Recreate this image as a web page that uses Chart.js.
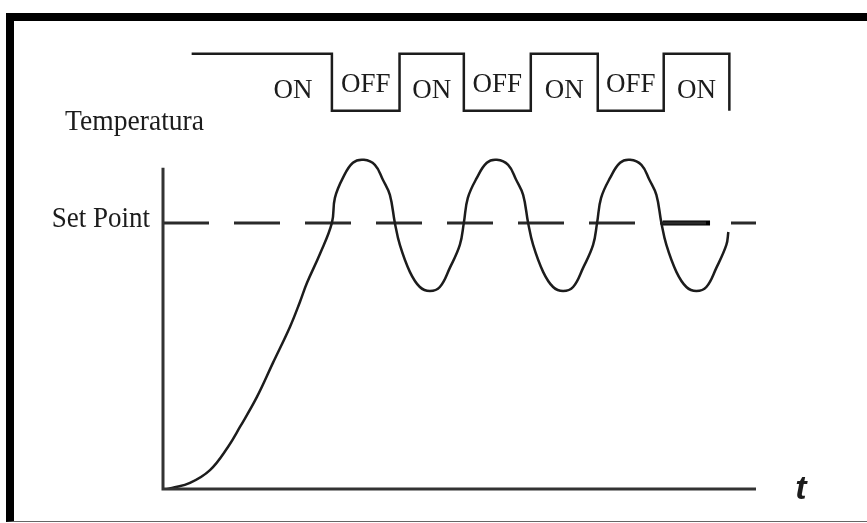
<!DOCTYPE html>
<html>
<head>
<meta charset="utf-8">
<script src="https://cdn.jsdelivr.net/npm/chart.js@4/dist/chart.umd.min.js"></script>
<style>
  body { margin: 0; background: #fff; overflow: hidden; }
  #frame { position: absolute; left: 6px; top: 13px; width: 870px; height: 509px; box-sizing: border-box;
           border-top: 8px solid #000; border-left: 8px solid #000; border-bottom: 1px solid #666; }
  #chartReport { position: absolute; left: 0; top: 0; width: 867px; height: 523px; }
</style>
</head>
<body>
<div id="frame"></div>
<div id="chartReport"><canvas id="myChart"></canvas></div>
<script>
  // time in arbitrary units (one oscillation = 20), temperature with set point = 100
  let time = [0.6, 1.35, 4.05, 7.05, 9.75, 11.55, 14.1, 16.5, 19.05, 20.55, 21.6, 23.55,
              25.35, 25.8, 27.0, 28.5, 30.15, 31.8, 33.0, 34.05, 34.8, 35.55, 37.05, 38.55,
              40.05, 41.55, 43.05, 44.55, 45.15, 45.75, 47.1, 48.6, 50.1, 51.8, 53.0, 54.05,
              54.8, 55.55, 57.05, 58.55, 60.05, 61.55, 63.05, 64.55, 65.15, 65.75, 67.1, 68.6,
              70.1, 71.8, 73.0, 74.05, 74.8, 75.55, 77.05, 78.55, 80.05, 81.55, 83.05, 84.55, 84.85];
  let temperature = [0, 0.4, 2.3, 7.1, 15.8, 23.3, 34.6, 47.4, 60.9, 70.3, 77.4, 88.3,
              100, 109.4, 116.9, 122.6, 123.7, 121.8, 116.2, 110.5, 100, 91.7, 81.6, 75.9,
              74.4, 75.9, 83.1, 91.7, 100, 109.4, 116.9, 122.6, 123.7, 121.8, 116.2, 110.5,
              100, 91.7, 81.6, 75.9, 74.4, 75.9, 83.1, 91.7, 100, 109.4, 116.9, 122.6,
              123.7, 121.8, 116.2, 110.5, 100, 91.7, 81.6, 75.9, 74.4, 75.9, 83.1, 91.7, 96.6];

  let setPoint = 100;
  let timeEnd = 89;
  let tempAxisTop = 120.7;

  // relay switching times and state (1 = ON, 0 = OFF)
  let relayTime = [4.3, 25.35, 35.5, 45.15, 55.2, 65.25, 75.15, 85];
  let relayState = [1, 0, 1, 0, 1, 0, 1, 0];
  let relayLabels = ['ON', 'OFF', 'ON', 'OFF', 'ON', 'OFF', 'ON'];

  // short heavier stroke on the set point line
  let markTime = [75.0, 82.1];

  const ink = '#1c1c1c';
  const serif = '"Liberation Serif", "Times New Roman", serif';

  const pts = (xs, ys) => xs.map((x, i) => ({x: x, y: ys[i]}));

  const decorations = {
    id: 'decorations',
    afterDraw(chart) {
      const ctx = chart.ctx;
      const xs = chart.scales.x, ys = chart.scales.y, rs = chart.scales.relay;
      const x0 = xs.getPixelForValue(0), y0 = ys.getPixelForValue(0);

      // axes
      ctx.save();
      ctx.strokeStyle = '#333';
      ctx.lineWidth = 3;
      ctx.beginPath();
      ctx.moveTo(x0, ys.getPixelForValue(tempAxisTop));
      ctx.lineTo(x0, y0);
      ctx.lineTo(xs.getPixelForValue(timeEnd), y0);
      ctx.stroke();

      ctx.fillStyle = ink;
      // Temperatura
      ctx.save();
      ctx.translate(65, 130);
      ctx.scale(0.92, 1);
      ctx.font = '30px ' + serif;
      ctx.textAlign = 'left';
      ctx.textBaseline = 'alphabetic';
      ctx.fillText('Temperatura', 0, 0);
      ctx.restore();

      // Set Point
      ctx.save();
      ctx.translate(x0 - 13, ys.getPixelForValue(setPoint) + 4);
      ctx.scale(0.9, 1);
      ctx.font = '30px ' + serif;
      ctx.textAlign = 'right';
      ctx.textBaseline = 'alphabetic';
      ctx.fillText('Set Point', 0, 0);
      ctx.restore();

      // relay labels
      ctx.font = '27px ' + serif;
      ctx.textAlign = 'center';
      ctx.textBaseline = 'middle';
      relayLabels.forEach((lab, i) => {
        let a = relayTime[i], b = relayTime[i + 1];
        let mid = i === 0 ? b - 5.85 : (a + b) / 2;
        let yv = lab === 'ON' ? 0.35 : 0.45;
        ctx.fillText(lab, xs.getPixelForValue(mid), rs.getPixelForValue(yv));
      });

      // t
      ctx.font = 'italic bold 34px "Liberation Sans", Arial, sans-serif';
      ctx.textAlign = 'center';
      ctx.textBaseline = 'alphabetic';
      ctx.fillText('t', 801, y0 + 10);
      ctx.restore();
    }
  };

  const ctx = document.getElementById('myChart').getContext('2d');
  const myChart = new Chart(ctx, {
    type: 'line',
    data: {
      datasets: [
        {
          data: pts(time, temperature),
          borderColor: ink,
          borderWidth: 2.5,
          pointRadius: 0,
          tension: 0.4,
          fill: false
        },
        {
          data: pts([0, timeEnd], [setPoint, setPoint]),
          borderColor: '#2a2a2a',
          borderWidth: 3,
          borderDash: [46, 25],
          pointRadius: 0,
          fill: false
        },
        {
          data: pts(markTime, [setPoint, setPoint]),
          borderColor: '#000',
          borderWidth: 5,
          pointRadius: 0,
          fill: false
        },
        {
          data: pts(relayTime, relayState),
          yAxisID: 'relay',
          stepped: 'before',
          borderColor: ink,
          borderWidth: 2.5,
          pointRadius: 0,
          fill: false
        }
      ]
    },
    options: {
      responsive: true,
      maintainAspectRatio: false,
      animation: false,
      layout: { padding: { left: 163, right: 111, top: 10, bottom: 34 } },
      plugins: { legend: { display: false }, tooltip: { enabled: false } },
      scales: {
        x: { type: 'linear', min: 0, max: timeEnd, display: false },
        y: { min: 0, max: 180, display: false },
        relay: { axis: 'y', position: 'left', min: -6.634, max: 1.769, display: false }
      }
    },
    plugins: [decorations]
  });
</script>
</body>
</html>
